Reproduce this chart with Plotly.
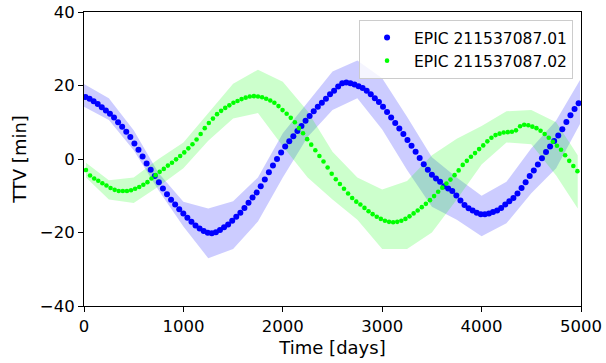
import numpy as np
import plotly.graph_objects as go

# ---- data ----
p1_t0, p1_period = 15.0, 41.0
p2_t0, p2_period = 20.0, 41.2

ttv_01 = [16.9, 16.4, 15.7, 15.0, 14.1, 13.2, 12.3, 11.3, 10.0, 8.8,
          7.4, 6.0, 4.2, 2.5, 0.7, -1.2, -2.9, -4.6, -6.3, -8.0,
          -9.6, -11.1, -12.4, -13.7, -14.8, -16.0, -17.1, -18.1, -18.9, -19.6,
          -20.1, -20.2, -19.9, -19.3, -18.6, -17.8, -16.8, -15.7, -14.6, -13.3,
          -11.9, -10.5, -9.1, -7.4, -5.6, -3.6, -1.8, 0.0, 1.8, 3.4,
          4.8, 6.2, 7.6, 9.0, 10.4, 11.7, 13.0, 14.2, 15.3, 16.4,
          17.6, 18.6, 19.7, 20.6, 20.8, 20.6, 20.3, 19.8, 19.3, 18.6,
          17.6, 16.5, 15.5, 14.2, 12.8, 11.3, 9.8, 8.3, 6.8, 5.2,
          3.6, 2.0, 0.3, -1.4, -2.9, -4.3, -5.3, -6.2, -7.4, -8.0,
          -8.7, -9.9, -11.3, -12.5, -13.4, -14.0, -14.6, -15.0, -15.0, -14.8,
          -14.4, -14.0, -13.3, -12.4, -11.5, -10.6, -9.4, -7.9, -6.3, -4.6,
          -3.1, -1.5, 0.2, 1.9, 3.4, 4.9, 6.4, 8.1, 10.1, 11.9,
          13.6, 15.2]

ttv_02 = [-3.0, -4.5, -5.3, -5.9, -6.6, -7.2, -7.9, -8.4, -8.7, -8.7,
          -8.7, -8.5, -8.1, -7.6, -7.0, -6.3, -5.3, -4.4, -3.5, -2.7,
          -1.8, -1.0, -0.1, 0.8, 1.8, 2.9, 4.0, 5.3, 6.8, 8.4,
          9.8, 11.0, 12.2, 13.1, 13.9, 14.6, 15.3, 15.8, 16.3, 16.7,
          17.0, 17.1, 17.0, 16.8, 16.4, 15.9, 15.3, 14.4, 13.3, 12.3,
          11.2, 10.0, 8.4, 7.0, 5.4, 3.9, 2.4, 0.8, -0.7, -2.3,
          -4.0, -5.5, -6.8, -8.1, -9.4, -10.6, -11.6, -12.4, -13.3, -14.2,
          -15.0, -15.7, -16.3, -16.8, -17.1, -17.2, -17.1, -16.8, -16.3, -15.6,
          -14.8, -14.0, -13.1, -12.2, -11.2, -10.1, -8.9, -7.8, -6.7, -5.6,
          -4.4, -3.1, -1.6, -0.5, 0.6, 1.6, 2.7, 3.7, 4.8, 5.8,
          6.5, 6.9, 7.2, 7.3, 7.4, 7.8, 8.9, 9.3, 9.2, 8.8,
          8.4, 7.7, 6.8, 5.8, 4.7, 3.6, 2.5, 1.0, -0.5, -1.9,
          -3.3]

band01_t = [0, 250, 500, 750, 1000, 1250, 1500, 1750, 2000, 2250, 2500,
            2750, 3000, 3250, 3500, 3750, 4000, 4250, 4500, 4750, 4990]
band01_lo = [14.2, 10.6, 2.4, -8.5, -18.4, -27.0, -24.5, -17.0, -5.0, 6.0, 13.3,
             16.5, 8.0, -3.0, -13.0, -16.5, -21.0, -17.5, -9.3, -2.5, 9.5]
band01_hi = [20.4, 16.5, 7.8, -3.8, -11.6, -13.5, -11.5, -5.0, 7.0, 15.5, 23.8,
             26.8, 22.0, 11.5, 0.5, -5.0, -10.0, -6.2, 2.9, 10.5, 21.5]

band02_t = [20, 250, 500, 750, 1000, 1250, 1500, 1750, 2000, 2250, 2500,
            2750, 3000, 3250, 3500, 3750, 4000, 4250, 4500, 4750, 4967]
band02_lo = [-5.0, -11.0, -12.0, -7.5, -2.5, 5.0, 11.0, 12.5, 3.5, -5.0, -11.0,
             -16.5, -24.5, -24.5, -20.0, -11.0, -1.5, 4.5, 4.0, -4.5, -13.5]
band02_hi = [-1.0, -5.8, -5.0, 0.0, 4.5, 12.5, 20.5, 24.3, 21.0, 13.0, 2.0,
             -5.0, -8.3, -6.0, 1.0, 5.5, 9.0, 13.0, 13.3, 10.0, 1.0]

names = ["EPIC 211537087.01", "EPIC 211537087.02"]
x_ticks = [0, 1000, 2000, 3000, 4000, 5000]
y_ticks = [-40, -20, 0, 20, 40]

# transit times
t01 = p1_t0 + p1_period * np.arange(len(ttv_01))
t02 = p2_t0 + p2_period * np.arange(len(ttv_02))

FONT = "DejaVu Sans"
fig = go.Figure()

def band(t, lo, hi, color):
    xs = list(t) + list(t)[::-1]
    ys = list(hi) + list(lo)[::-1]
    return go.Scatter(x=xs, y=ys, fill="toself", fillcolor=color,
                      line=dict(width=0), mode="lines", hoverinfo="skip",
                      showlegend=False)

fig.add_trace(band(band01_t, band01_lo, band01_hi, "rgba(0,0,255,0.2)"))
fig.add_trace(band(band02_t, band02_lo, band02_hi, "rgba(0,255,0,0.2)"))
fig.add_trace(go.Scatter(x=t01, y=ttv_01, mode="markers", name=names[0],
                         marker=dict(color="#0000ff", size=6, line=dict(width=0))))
fig.add_trace(go.Scatter(x=t02, y=ttv_02, mode="markers", name=names[1],
                         marker=dict(color="#00ff00", size=4.6, line=dict(width=0))))

axis_common = dict(showgrid=False, zeroline=False, showline=True, linecolor="black",
                   linewidth=1, mirror=True, ticks="outside", ticklen=5,
                   tickcolor="black", automargin=False,
                   tickfont=dict(family=FONT, size=16.5, color="black"))

fig.update_xaxes(range=[0, 5000], tickvals=x_ticks,
                 title=dict(text="Time [days]", font=dict(family=FONT, size=18, color="black"), standoff=6),
                 **axis_common)
fig.update_yaxes(range=[-40, 40], tickvals=y_ticks,
                 title=dict(text="TTV [min]", font=dict(family=FONT, size=18, color="black"), standoff=8),
                 **axis_common)

fig.update_layout(
    width=606, height=363,
    margin=dict(l=84, r=25, t=12, b=57, autoexpand=False),
    plot_bgcolor="white", paper_bgcolor="white",
    font=dict(family=FONT, color="black"),
    legend=dict(x=0.984, y=0.973, xanchor="right", yanchor="top",
                bgcolor="rgba(255,255,255,0.8)", bordercolor="#cccccc", borderwidth=1,
                font=dict(family=FONT, size=15.5, color="black"),
                itemsizing="trace", itemwidth=44, tracegroupgap=0),
)

fig.write_html("out.html")
